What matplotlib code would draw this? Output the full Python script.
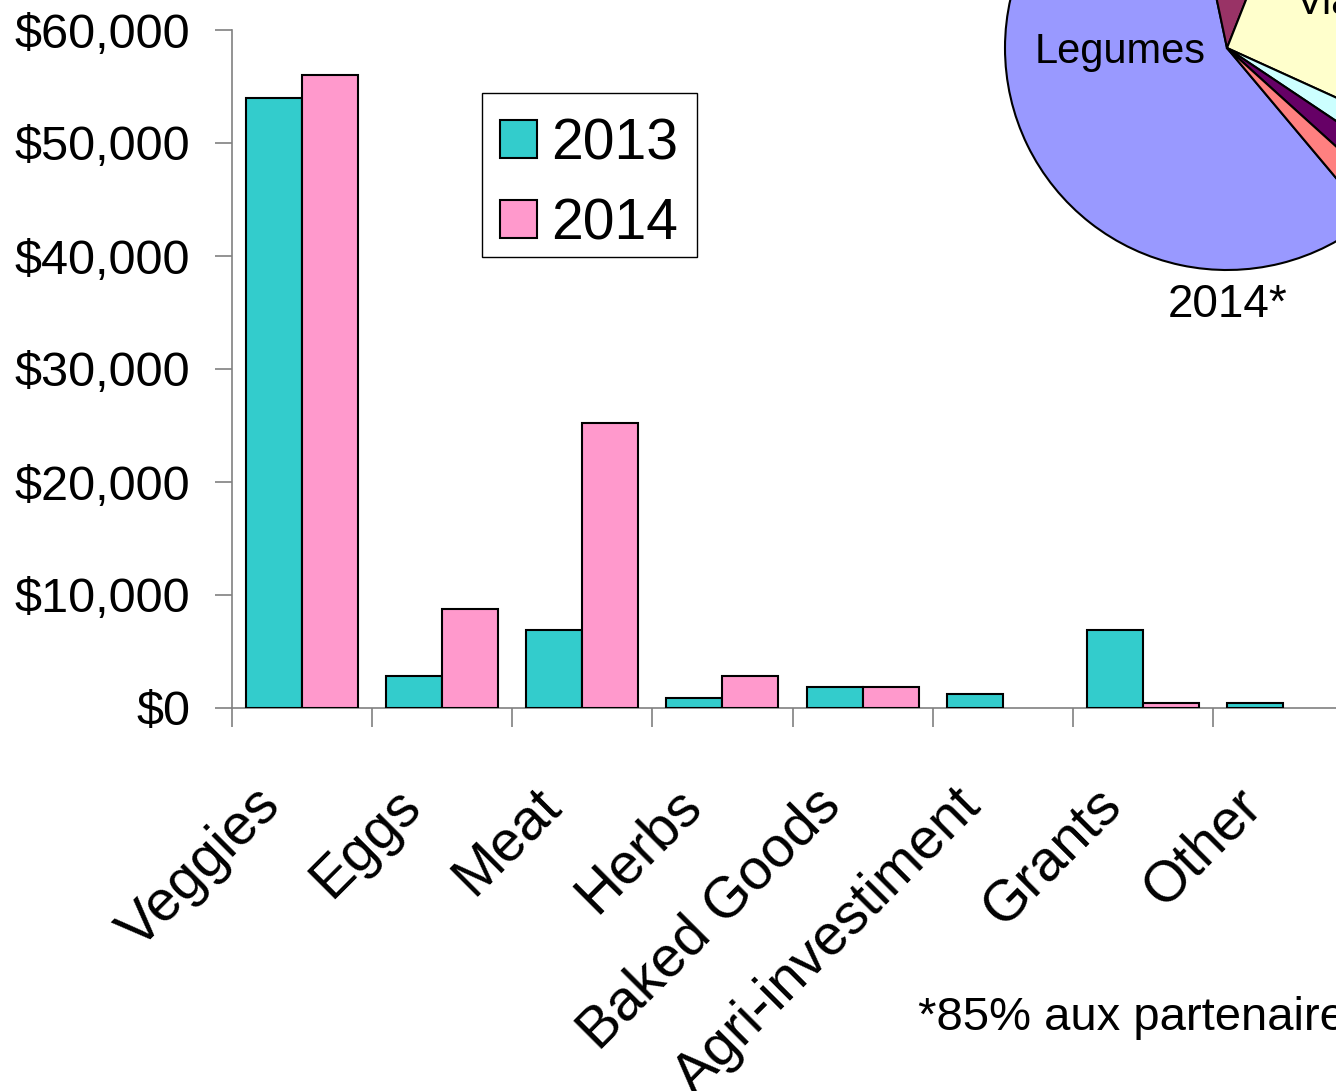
import matplotlib
matplotlib.use("Agg")
import matplotlib.pyplot as plt
import matplotlib.transforms as mtransforms
from matplotlib.patches import Rectangle
import numpy as np

plt.rcParams['font.family'] = ['Liberation Sans', 'DejaVu Sans']

categories = ["Veggies", "Eggs", "Meat", "Herbs", "Baked Goods", "Agri-investiment", "Grants", "Other"]
values_2013 = [54000, 2800, 6900, 900, 1900, 1200, 6900, 400]
values_2014 = [56000, 8800, 25200, 2800, 1900, np.nan, 400, np.nan]
yticks = [0, 10000, 20000, 30000, 40000, 50000, 60000]
ytick_labels = ["$0", "$10,000", "$20,000", "$30,000", "$40,000", "$50,000", "$60,000"]

pie_labels = ["Legumes", "Oeufs", "Viande", "Herbes", "Produits", "Autre"]
pie_values = [57.8, 9.3, 25.8, 2.6, 2.3, 2.2]
pie_colors = ["#9999FF", "#993366", "#FFFFCC", "#CCFFFF", "#660066", "#FF8080"]

W, H = 1336, 1091
fig = plt.figure(figsize=(W / 100, H / 100), dpi=100)

# bar axes (extends slightly past right edge, as in the cropped original)
left_px, right_px, top_px, bot_px = 232, 1353, 30, 708
ax = fig.add_axes([left_px / W, 1 - bot_px / H, (right_px - left_px) / W, (bot_px - top_px) / H])

x = np.arange(len(categories))
w = 0.4
ax.bar(x - w / 2, values_2013, w, color="#33CCCC", edgecolor="black", linewidth=1.5, label="2013", zorder=3)
ax.bar(x + w / 2, values_2014, w, color="#FF99CC", edgecolor="black", linewidth=1.5, label="2014", zorder=3)

ax.set_xlim(-0.5, len(categories) - 0.5)
ax.set_ylim(0, 60000)
for s in ["top", "right"]:
    ax.spines[s].set_visible(False)
for s in ["left", "bottom"]:
    ax.spines[s].set_color("#808080")
    ax.spines[s].set_linewidth(1.2)

ax.set_yticks(yticks)
ax.set_yticklabels(ytick_labels, fontsize=35)
ax.tick_params(axis="y", length=12, width=1.2, color="#808080", pad=18)

ax.set_xticks(x)
ax.set_xticklabels(categories, fontsize=41, rotation=45, ha="right", va="center", rotation_mode="anchor")
ax.tick_params(axis="x", which="major", length=0, pad=64)
shift = mtransforms.ScaledTranslation(-30 / 100, 0, fig.dpi_scale_trans)
for lbl in ax.get_xticklabels():
    lbl.set_transform(lbl.get_transform() + shift)
ax.set_xticks(np.arange(len(categories)) - 0.5, minor=True)
ax.tick_params(axis="x", which="minor", length=14, width=1.2, color="#808080", direction="out")

# legend (frame drawn separately so the rows sit as in the reference)
frame = Rectangle((482 / W, 1 - 257 / H), (697 - 482) / W, (257 - 93) / H,
                  transform=fig.transFigure, facecolor="white", edgecolor="black",
                  linewidth=1.0, zorder=4, clip_on=False)
ax.add_artist(frame)
leg = ax.legend(loc="upper left", bbox_to_anchor=(485 / W, 1 - 102 / H), bbox_transform=fig.transFigure,
                fontsize=41, frameon=False,
                handlelength=0.65, handleheight=0.65, handletextpad=0.25, borderpad=0.27,
                labelspacing=0.45, borderaxespad=0)
leg.set_zorder(5)

# pie (cropped at top-right)
cx, cy, r = 1227, 48, 222
pax = fig.add_axes([(cx - r) / W, 1 - (cy + r) / H, 2 * r / W, 2 * r / H])
pax.pie(pie_values, colors=pie_colors, startangle=310, counterclock=False,
        wedgeprops=dict(edgecolor="black", linewidth=1.5))
pax.set_xlim(-1, 1)
pax.set_ylim(-1, 1)
pax.set_aspect("auto")
pax.axis("off")

fig.text(1120 / W, 1 - 52 / H, "Legumes", fontsize=30, ha="center", va="center")
fig.text(1296 / W, 1 - 3 / H, "Viande", fontsize=30, ha="left", va="center")
fig.text(1228 / W, 1 - 305 / H, "2014*", fontsize=33, ha="center", va="center")
fig.text(918 / W, 1 - 1018 / H, "*85% aux partenaires", fontsize=34, ha="left", va="center")

fig.savefig("out.png", dpi=100)
